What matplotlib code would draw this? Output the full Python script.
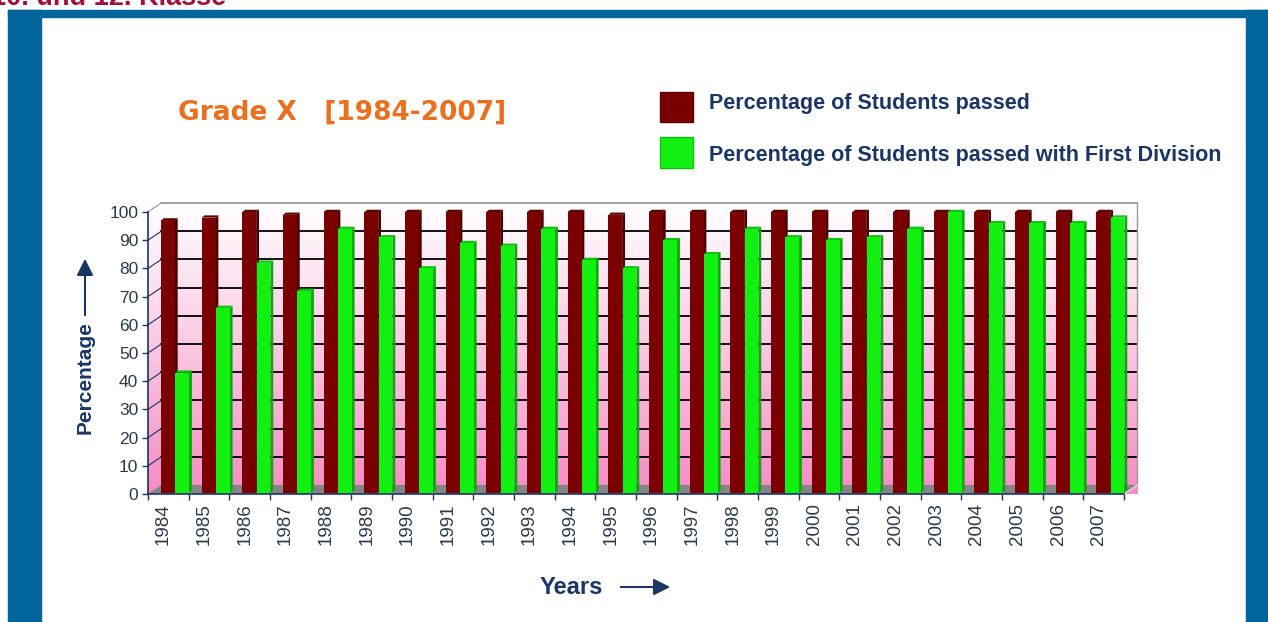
import matplotlib
matplotlib.use('Agg')

import matplotlib.pyplot as plt
import numpy as np
from matplotlib.patches import Polygon, Rectangle, FancyArrowPatch

years = [str(y) for y in range(1984, 2008)]
passed = [97, 98, 100, 99, 100, 100, 100, 100, 100, 100, 100, 99,
          100, 100, 100, 100, 100, 100, 100, 100, 100, 100, 100, 100]
first_div = [43, 66, 82, 72, 94, 91, 80, 89, 88, 94, 83, 80,
             90, 85, 94, 91, 90, 91, 94, 100, 96, 96, 96, 98]
y_ticks = list(range(0, 101, 10))

W, H = 1268, 622
navy = '#1b3565'
blue = '#00659a'
red = '#7a0000'
green = '#12f012'


def fx(x):
    return x / W


def fy(y):
    return 1 - y / H


fig = plt.figure(figsize=(W / 100, H / 100), dpi=100)
fig.patch.set_facecolor('white')

# blue frame
fig.patches.append(Rectangle((fx(8), 0), fx(33), fy(10), transform=fig.transFigure,
                             color=blue, zorder=0))
fig.patches.append(Rectangle((fx(1246), 0), fx(22), fy(10), transform=fig.transFigure,
                             color=blue, zorder=0))
fig.patches.append(Rectangle((fx(8), fy(17)), fx(1260), fy(10) - fy(17),
                             transform=fig.transFigure, color=blue, zorder=0))
fig.text(fx(226), fy(5), '10. und 12. Klasse', ha='right', va='baseline',
         fontsize=19.5, fontweight='bold', color='#a0103a', family='Liberation Sans')

# axes = front plane of the 3d box
ax = fig.add_axes([fx(148), fy(494), fx(1124) - fx(148), fy(212) - fy(494)])
n = len(years)
dx, dy = 0.33, 3.2
x0, x1 = -0.5, n - 0.5
ax.patch.set_alpha(0)

# walls with pink gradient
walls = Polygon([(x0, 0), (x0, 100), (x0 + dx, 100 + dy), (x1 + dx, 100 + dy),
                 (x1 + dx, dy), (x0 + dx, dy)], closed=True, transform=ax.transData,
                facecolor='none', edgecolor='none')
ax.add_patch(walls)
t = np.linspace(0, 1, 256).reshape(-1, 1)
top_c = np.array([1.0, 1.0, 1.0])
bot_c = np.array([245, 140, 195]) / 255
grad = top_c + (bot_c - top_c) * (t ** 1.05)
img = ax.imshow(np.repeat(grad[:, None, :], 2, axis=1), extent=(x0, x1 + dx, 0, 100 + dy),
                origin='upper', aspect='auto', zorder=0, clip_on=False)
img.set_clip_path(walls)
ax.set_xlim(x0, x1)
ax.set_ylim(0, 100)

# grid on the back wall and the left wall
for v in y_ticks[1:]:
    c = '#999999' if v == 100 else 'black'
    ax.plot([x0 + dx, x1 + dx], [v + dy, v + dy], color=c, lw=1.3, zorder=1, clip_on=False)
    ax.plot([x0, x0 + dx], [v, v + dy], color=navy if v < 100 else '#999999', lw=0.8,
            zorder=1, clip_on=False)
ax.plot([x1 + dx, x1 + dx], [dy, 100 + dy], color='#999999', lw=1, zorder=1, clip_on=False)

# floor
ax.add_patch(Polygon([(x0, 0), (x1, 0), (x1 + dx, dy), (x0 + dx, dy)], closed=True,
                     facecolor='#858585', edgecolor='none', zorder=1, clip_on=False))
ax.plot([x1, x1 + dx], [0, dy], color='#dddddd', lw=1, zorder=1, clip_on=False)


def bar3d(xl, w, h, face, side, top):
    b = 0.5
    sx, sy = 0.07, 0.8
    ax.add_patch(Polygon([(xl + w, b), (xl + w + sx, b + sy), (xl + w + sx, h + sy), (xl + w, h)],
                         closed=True, facecolor=side, edgecolor='none', zorder=3, clip_on=False))
    ax.add_patch(Polygon([(xl, h), (xl + sx, h + sy), (xl + w + sx, h + sy), (xl + w, h)],
                         closed=True, facecolor=top, edgecolor='none', zorder=3, clip_on=False))
    ax.add_patch(Rectangle((xl, b), w, h - b, facecolor=face, edgecolor='none', zorder=3,
                           clip_on=False))


bw = 0.34
for i in range(n):
    bar3d(i - 0.18, bw, passed[i], red, '#4a0000', '#5a0000')
    bar3d(i + 0.17, bw, first_div[i], green, '#0aa80a', '#0cc40c')

# axes styling
for s in ['top', 'right']:
    ax.spines[s].set_visible(False)
for s in ['left', 'bottom']:
    ax.spines[s].set_color(navy)
    ax.spines[s].set_linewidth(1.2)
    ax.spines[s].set_zorder(5)
ax.set_yticks(y_ticks)
ax.set_yticklabels([str(v) for v in y_ticks], fontsize=12.5, color='#2b3a4a',
                   family='Liberation Sans')
ax.tick_params(axis='y', length=4, width=1, color=navy, pad=3)
ax.set_xticks(np.arange(-0.5, n, 1.0))
ax.set_xticklabels([])
ax.tick_params(axis='x', length=4, width=1, color=navy)
for i, yr in enumerate(years):
    ax.text(i - 0.12, -3.2, yr, rotation=90, ha='center', va='top', fontsize=13.5,
            color='#2b3a4a', family='Liberation Sans')

# titles and axis captions
fig.text(fx(178), fy(113), 'Grade X   [1984-2007]', ha='left', va='center', fontsize=19,
         fontweight='bold', color='#e8701e', family='DejaVu Sans')
fig.text(fx(571), fy(588), 'Years', ha='center', va='center', fontsize=17,
         fontweight='bold', color=navy, family='Liberation Sans')
fig.patches.append(FancyArrowPatch((fx(618), fy(587)), (fx(673), fy(587)),
                                   transform=fig.transFigure,
                                   arrowstyle='-|>,head_length=5,head_width=2.5',
                                   color=navy, lw=1.5, mutation_scale=2))
fig.text(fx(85), fy(378), 'Percentage', ha='center', va='center', rotation=90, fontsize=15,
         fontweight='bold', color=navy, family='Liberation Sans')
fig.patches.append(FancyArrowPatch((fx(85), fy(318)), (fx(85), fy(256)),
                                   transform=fig.transFigure,
                                   arrowstyle='-|>,head_length=5,head_width=2.5',
                                   color=navy, lw=1.5, mutation_scale=2))

# legend
fig.patches.append(Rectangle((fx(660), fy(122)), fx(33), fy(92) - fy(122),
                             transform=fig.transFigure, facecolor=red, edgecolor='#5a0000'))
fig.patches.append(Rectangle((fx(660), fy(168)), fx(33), fy(137) - fy(168),
                             transform=fig.transFigure, facecolor=green, edgecolor='#10c010'))
fig.text(fx(709), fy(104), 'Percentage of Students passed', ha='left', va='center',
         fontsize=15.5, fontweight='bold', color=navy, family='Liberation Sans')
fig.text(fx(709), fy(155), 'Percentage of Students passed with First Division', ha='left',
         va='center', fontsize=15.5, fontweight='bold', color=navy, family='Liberation Sans')

fig.savefig('out.png', dpi=100)
